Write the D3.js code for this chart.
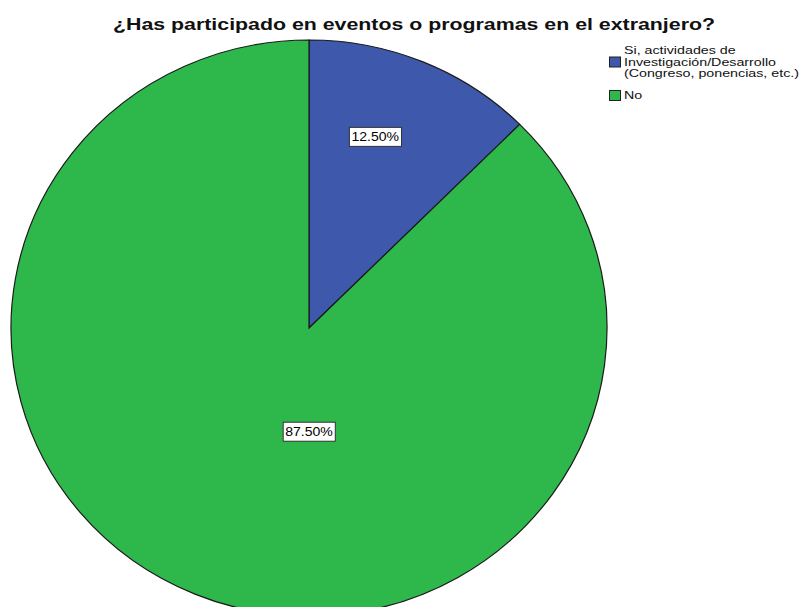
<!DOCTYPE html>
<html>
<head>
<meta charset="utf-8">
<script src="https://cdn.jsdelivr.net/npm/d3@7"></script>
<style>
  body { margin: 0; background: #fff; }
  svg { display: block; font-family: "Liberation Sans", Arial, sans-serif; }
</style>
</head>
<body>
<div class="chart-container"></div>
<script>
// data
const categories = ['Si, actividades de Investigación/Desarrollo (Congreso, ponencias, etc.)', 'No'];
const legendLines = [['Si, actividades de', 'Investigación/Desarrollo', '(Congreso, ponencias, etc.)'], ['No']];
const percents = [12.5, 87.5];
const colors = ['#3e58ac', '#2eb84b'];
const title = '¿Has participado en eventos o programas en el extranjero?';

const width = 800;
const height = 607;
const cx = 309;
const cy = 328;
const rx = 298;
const ry = 288;

const svg = d3.select('.chart-container').append('svg')
    .attr('width', width)
    .attr('height', height);

// SPSS renders its text a bit wider than Liberation, so stretch the glyphs
const stretch = (sel, k) => {
    const w = sel.node().getComputedTextLength();
    sel.attr('textLength', w * k).attr('lengthAdjust', 'spacingAndGlyphs');
};

const titleText = svg.append('text')
    .attr('x', 414)
    .attr('y', 30)
    .attr('text-anchor', 'middle')
    .attr('font-size', '17px')
    .attr('font-weight', 'bold')
    .attr('fill', '#111')
    .text(title);
stretch(titleText, 602 / titleText.node().getComputedTextLength());

const pie = d3.pie().sort(null).value(d => d);
const arcs = pie(percents);
const arc = d3.arc().innerRadius(0).outerRadius(rx);

// SPSS draws the pie a little squashed vertically
const pieG = svg.append('g')
    .attr('transform', `translate(${cx},${cy}) scale(1,${ry / rx})`);

pieG.selectAll('path')
    .data(arcs)
    .enter()
    .append('path')
    .attr('d', arc)
    .attr('fill', (d, i) => colors[i])
    .attr('stroke', '#1a1a1a')
    .attr('stroke-width', 1.2)
    .attr('vector-effect', 'non-scaling-stroke');

// label positions: small slice near the rim, big slice below the centre
const labelArc = [
    d3.arc().innerRadius(rx * 0.70).outerRadius(rx * 0.70),
    d3.arc().innerRadius(rx * 0.36).outerRadius(rx * 0.36)
];
const labelAngle = [0.323, Math.PI];

const labels = svg.append('g').attr('transform', `translate(${cx},${cy})`);
arcs.forEach((d, i) => {
    const c = labelArc[i].centroid({ startAngle: labelAngle[i], endAngle: labelAngle[i] });
    const g = labels.append('g').attr('transform', `translate(${c[0]},${c[1] * ry / rx})`);
    const t = g.append('text')
        .attr('text-anchor', 'middle')
        .attr('dy', '0.35em')
        .attr('font-size', '13px')
        .attr('fill', '#000')
        .text(d3.format('.2f')(d.data) + '%');
    stretch(t, 1.08);
    const bb = t.node().getBBox();
    g.insert('rect', 'text')
        .attr('x', bb.x - 2)
        .attr('y', bb.y - 2)
        .attr('width', bb.width + 4)
        .attr('height', bb.height + 4)
        .attr('fill', '#fff')
        .attr('stroke', '#333')
        .attr('stroke-width', 1);
});

// legend
const legend = svg.append('g').attr('id', 'legend');
const lineH = 11.5;
let yy = 54;
let legendK = null;
legendLines.forEach((lines, i) => {
    lines.forEach((ln, j) => {
        const t = legend.append('text')
            .attr('x', 624)
            .attr('y', yy + j * lineH)
            .attr('font-size', '11px')
            .attr('fill', '#111')
            .text(ln);
        if (legendK === null) {
            // widest line should reach the right edge like in the original
            const probe = legend.append('text').attr('font-size', '11px').text(legendLines[0][2]);
            legendK = 175 / probe.node().getComputedTextLength();
            probe.remove();
        }
        stretch(t, legendK);
    });
    const mid = lines.length > 1 ? 1 : 0;
    legend.append('rect')
        .attr('x', 609.5)
        .attr('y', yy + mid * lineH - 8.5)
        .attr('width', 11)
        .attr('height', 10)
        .attr('fill', colors[i])
        .attr('stroke', '#222')
        .attr('stroke-width', 1);
    yy += lines.length * lineH + 10.5;
});
</script>
</body>
</html>
